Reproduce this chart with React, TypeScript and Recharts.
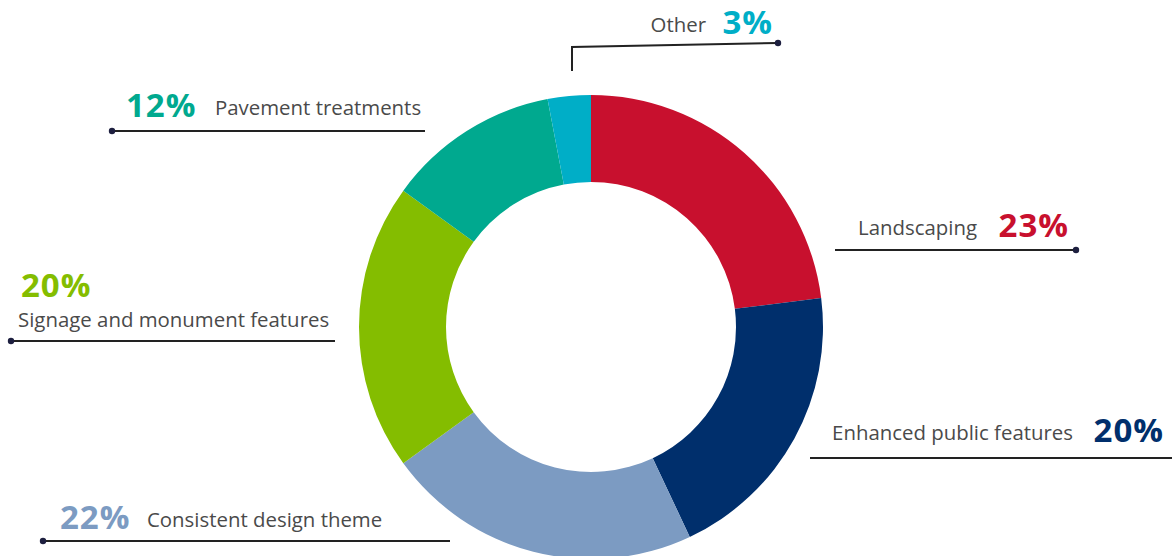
import { PieChart, Pie, Cell } from 'recharts';

const categories = [
  'Landscaping',
  'Enhanced public features',
  'Consistent design theme',
  'Signage and monument features',
  'Pavement treatments',
  'Other',
];
const values = [23, 20, 22, 20, 12, 3];
const colors = ['#C8102E', '#002F6C', '#7C9BC2', '#84BD00', '#00A98F', '#00AEC7'];

// where each callout sits (label text, percent, leader line, dot end)
type Anchor = 'start' | 'end';
interface Callout {
  name: { x: number; y: number; anchor: Anchor };
  pct: { x: number; y: number; anchor: Anchor };
  line: [number, number][];
  dot: 'start' | 'end' | null;
}

const callouts: Callout[] = [
  { name: { x: 977, y: 235, anchor: 'end' }, pct: { x: 1069, y: 237, anchor: 'end' }, line: [[835, 250], [1076, 250]], dot: 'end' },
  { name: { x: 1073, y: 440, anchor: 'end' }, pct: { x: 1164, y: 442, anchor: 'end' }, line: [[810, 458], [1180, 458]], dot: null },
  { name: { x: 147, y: 527, anchor: 'start' }, pct: { x: 60, y: 529, anchor: 'start' }, line: [[43, 541], [450, 541]], dot: 'start' },
  { name: { x: 18, y: 327, anchor: 'start' }, pct: { x: 21, y: 297, anchor: 'start' }, line: [[11, 341], [335, 341]], dot: 'start' },
  { name: { x: 215, y: 115, anchor: 'start' }, pct: { x: 126, y: 117, anchor: 'start' }, line: [[112, 131], [425, 131]], dot: 'start' },
  { name: { x: 706, y: 32, anchor: 'end' }, pct: { x: 773, y: 34, anchor: 'end' }, line: [[572, 71], [572, 47], [778, 43]], dot: 'end' },
];

const data = categories.map((name, i) => ({ name, value: values[i] }));

const FONT = '"Open Sans", "Noto Sans", sans-serif';

const renderCallout = (props: any) => {
  const i = props.index as number;
  const c = callouts[i];
  if (!c) return null;
  const pts = c.line.map(p => p.join(',')).join(' ');
  const dotPt = c.dot === 'start' ? c.line[0] : c.dot === 'end' ? c.line[c.line.length - 1] : null;
  return (
    <g key={`callout-${i}`}>
      <polyline points={pts} fill="none" stroke="#222" strokeWidth={2} />
      {dotPt && <circle cx={dotPt[0]} cy={dotPt[1]} r={3.2} fill="#1d1f3f" />}
      <text
        x={c.name.x}
        y={c.name.y}
        textAnchor={c.name.anchor}
        fontFamily={FONT}
        fontSize={20.4}
        fill="#4a4a4a"
      >
        {categories[i]}
      </text>
      <text
        x={c.pct.x}
        y={c.pct.y}
        textAnchor={c.pct.anchor}
        fontFamily={FONT}
        fontSize={33}
        fontWeight={700}
        letterSpacing={1}
        fill={colors[i]}
      >
        {values[i]}%
      </text>
    </g>
  );
};

export default function App() {
  return (
    <div style={{ width: 1172, height: 556, background: '#fff', overflow: 'hidden' }}>
      <style>{'body{margin:0;}'}</style>
      <PieChart width={1172} height={556} margin={{ top: 0, right: 0, bottom: 0, left: 0 }}>
        <Pie
          data={data}
          dataKey="value"
          nameKey="name"
          cx={591}
          cy={327}
          innerRadius={145}
          outerRadius={232}
          startAngle={90}
          endAngle={-270}
          stroke="none"
          label={renderCallout}
          labelLine={false}
          isAnimationActive={false}
        >
          {data.map((d, i) => (
            <Cell key={d.name} fill={colors[i]} />
          ))}
        </Pie>
      </PieChart>
    </div>
  );
}
